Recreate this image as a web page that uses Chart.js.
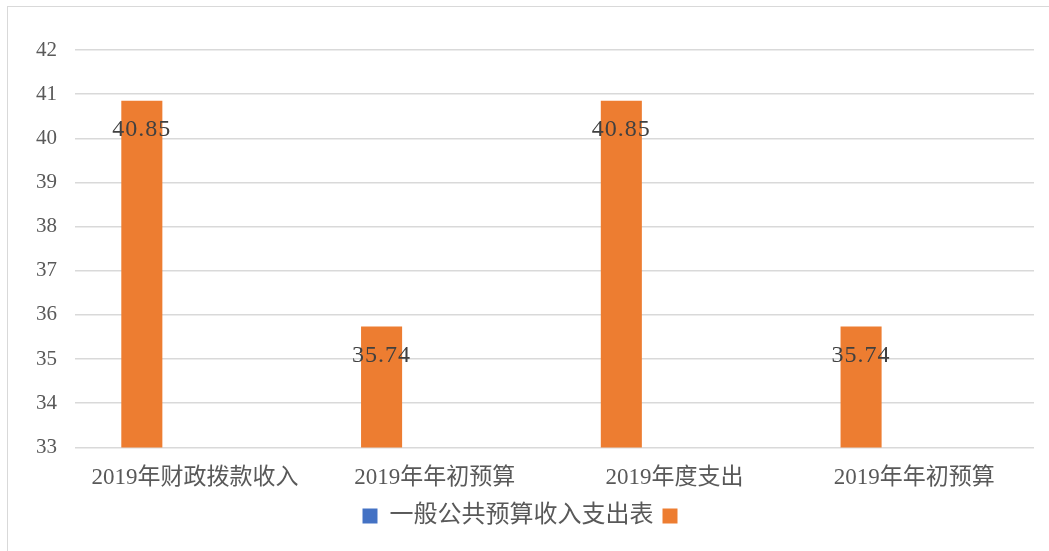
<!DOCTYPE html>
<html>
<head>
<meta charset="utf-8">
<script src="https://cdn.jsdelivr.net/npm/chart.js@4/dist/chart.umd.min.js"></script>
<style>
  body { margin: 0; background: #fff; overflow: hidden; }
  #box { position: absolute; left: 7px; top: 6px; width: 1041px; height: 560px; border: 1px solid #d9d9d9; }
  #wrap { width: 1041px; height: 545px; }
</style>
</head>
<body>
<div id="box"><div id="wrap"><canvas id="myChart"></canvas></div></div>
<script>
var categories = ["2019年财政拨款收入", "2019年年初预算", "2019年度支出", "2019年年初预算"];
var amounts = [40.85, 35.74, 40.85, 35.74];
var seriesName = "一般公共预算收入支出表";
var yTicks = [33, 34, 35, 36, 37, 38, 39, 40, 41, 42];

var serif = "'Liberation Serif', 'Noto Sans CJK SC', serif";

// value labels inside the top of each orange bar
var barLabels = {
  id: "barLabels",
  afterDatasetsDraw(chart) {
    var ctx = chart.ctx;
    var meta = chart.getDatasetMeta(0);
    ctx.save();
    ctx.font = "24px " + serif;
    ctx.letterSpacing = "1px";
    ctx.fillStyle = "#404040";
    ctx.textAlign = "center";
    ctx.textBaseline = "middle";
    meta.data.forEach((bar, i) => {
      ctx.fillText(amounts[i].toFixed(2), bar.x, bar.y + 29);
    });
    ctx.restore();
  }
};

new Chart("myChart", {
  type: "bar",
  data: {
    labels: categories,
    datasets: [
      { label: "", data: amounts, backgroundColor: "#ED7D31" },
      { label: seriesName + " ", data: [], backgroundColor: "#4472C4" }
    ]
  },
  options: {
    responsive: true,
    maintainAspectRatio: false,
    animation: false,
    categoryPercentage: 0.885,
    barPercentage: 0.387,
    layout: { padding: { left: 10, right: 15, top: 43, bottom: 14 } },
    scales: {
      x: {
        grid: { display: false },
        border: { display: false },
        ticks: { color: "#595959", font: { family: serif, size: 23 }, padding: 9 }
      },
      y: {
        min: 33,
        max: 42,
        afterBuildTicks: (axis) => { axis.ticks = yTicks.map(v => ({ value: v })); },
        grid: { color: "#d9d9d9", lineWidth: 1.5, drawTicks: false },
        border: { display: false },
        ticks: { color: "#595959", font: { family: serif, size: 21 }, padding: 18 }
      }
    },
    plugins: {
      tooltip: { enabled: false },
      legend: {
        position: "bottom",
        labels: {
          color: "#595959",
          font: { family: serif, size: 24 },
          boxWidth: 15,
          boxHeight: 15,
          padding: 3,
          sort: (a, b) => b.datasetIndex - a.datasetIndex
        }
      }
    }
  },
  plugins: [barLabels]
});
</script>
</body>
</html>
